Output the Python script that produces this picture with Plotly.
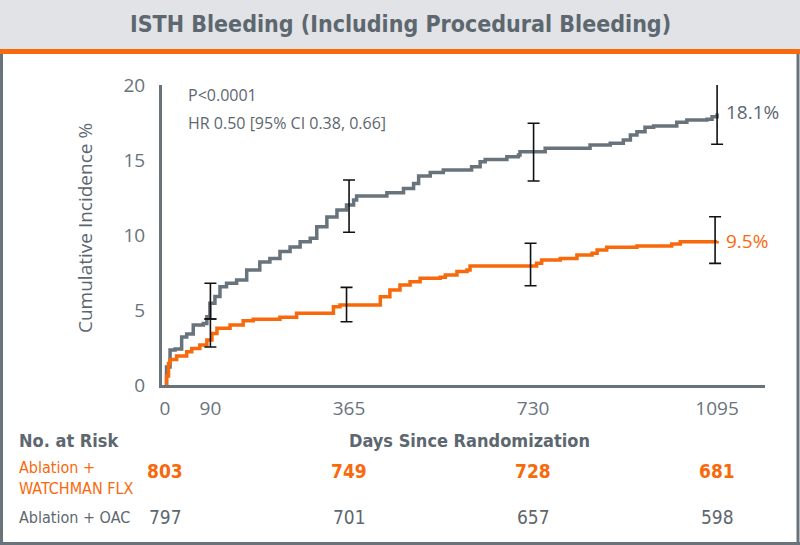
import plotly.graph_objects as go

# ---------------- data ----------------
oac_days = [0, 3, 10, 20, 33, 43, 56, 76, 83, 89, 99, 109, 122, 142, 162, 188, 208, 228, 248, 268, 288, 301, 321, 341,
            360, 374, 380, 440, 473, 493, 503, 526, 552, 608, 625, 635, 678, 701, 704, 754, 843, 883, 909, 923, 936,
            952, 969, 1015, 1035, 1075, 1085, 1095]
oac_vals = [0, 1.2, 2.33, 2.4, 3.2, 3.4, 4.0, 4.1, 4.55, 5.45, 5.9, 6.55, 6.78, 7.0, 7.67, 8.2, 8.44, 8.9, 9.2, 9.55, 9.78,
            10.55, 11.2, 11.67, 12.0, 12.33, 12.6, 12.82, 13.1, 13.44, 13.93, 14.16, 14.33, 14.55, 14.89, 15.04, 15.22,
            15.33, 15.55, 15.78, 16.0, 16.11, 16.33, 16.67, 16.89, 17.18, 17.27, 17.51, 17.67, 17.71, 17.89, 18.1]

lao_days = [0, 3, 7, 10, 23, 43, 53, 69, 83, 93, 103, 129, 155, 175, 228, 261, 334, 347, 427, 446, 466, 486, 506, 546,
            556, 579, 599, 605, 737, 747, 784, 817, 847, 857, 876, 936, 1005, 1022, 1095]
lao_vals = [0, 0.6, 1.44, 1.7, 1.93, 2.22, 2.44, 2.67, 3.0, 3.44, 3.78, 4.0, 4.29, 4.38, 4.51, 4.78, 5.22, 5.33, 5.89,
            6.33, 6.67, 6.89, 7.11, 7.18, 7.33, 7.56, 7.67, 7.93, 8.11, 8.33, 8.44, 8.67, 8.78, 9.0, 9.18, 9.27, 9.4,
            9.55, 9.6]

oac_ci_days = [90, 365, 731, 1095]
oac_ci_mid = [5.45, 12.0, 15.55, 18.1]
oac_ci_low = [4.4, 10.18, 13.6, 16.05]
oac_ci_high = [6.78, 13.67, 17.45, 20.2]

lao_ci_days = [90, 360, 725, 1091]
lao_ci_mid = [3.44, 5.33, 7.93, 9.6]
lao_ci_low = [2.53, 4.22, 6.62, 8.11]
lao_ci_high = [4.4, 6.51, 9.45, 11.22]

tick_days = [0, 90, 365, 730, 1095]
risk_days = [0, 365, 730, 1095]
risk_lao = [803, 749, 728, 681]
risk_oac = [797, 701, 657, 598]

GRAY = "#69737b"
TXT = "#5d676f"
ORANGE = "#f8690c"
SANS = "Open Sans, DejaVu Sans, sans-serif"
NARROW = "DejaVu Sans Condensed, Open Sans, sans-serif"

W, H = 800, 545
L, R, T, B = 162, 35, 85, 160


def px(x):
    return (x - L) / (W - L - R)


def py(y):
    return (H - B - y) / (H - T - B)


fig = go.Figure()

fig.add_trace(go.Scatter(x=oac_days, y=oac_vals, mode="lines", line=dict(color=GRAY, width=3.5, shape="hv"),
                         showlegend=False, hoverinfo="skip"))
fig.add_trace(go.Scatter(x=lao_days, y=lao_vals, mode="lines", line=dict(color=ORANGE, width=3.5, shape="hv"),
                         showlegend=False, hoverinfo="skip"))

for d, m, lo, hi in [(oac_ci_days, oac_ci_mid, oac_ci_low, oac_ci_high),
                     (lao_ci_days, lao_ci_mid, lao_ci_low, lao_ci_high)]:
    fig.add_trace(go.Scatter(
        x=d, y=m, mode="markers", marker=dict(size=1, color="rgba(0,0,0,0)"),
        error_y=dict(type="data", symmetric=False,
                     array=[h - v for h, v in zip(hi, m)],
                     arrayminus=[v - l for v, l in zip(m, lo)],
                     color="#111111", thickness=1.6, width=6),
        showlegend=False, hoverinfo="skip"))

shapes = [
    dict(type="rect", xref="paper", yref="paper", x0=px(0), x1=px(W), y0=py(0), y1=py(49),
         fillcolor="#e1e3e6", line=dict(width=0), layer="below"),
    dict(type="rect", xref="paper", yref="paper", x0=px(0), x1=px(W), y0=py(49), y1=py(54),
         fillcolor=ORANGE, line=dict(width=0)),
    dict(type="line", xref="paper", yref="paper", x0=px(1.5), x1=px(1.5), y0=py(54), y1=py(543.5),
         line=dict(color=GRAY, width=3)),
    dict(type="line", xref="paper", yref="paper", x0=px(798), x1=px(798), y0=py(54), y1=py(543.5),
         line=dict(color=GRAY, width=3)),
    dict(type="line", xref="paper", yref="paper", x0=px(0), x1=px(W), y0=py(543.5), y1=py(543.5),
         line=dict(color=GRAY, width=3)),
]

ann = []


def add(text, x, y, size, color, family=SANS, xanchor="left", xref="paper", weight=None, **kw):
    f = dict(size=size, color=color, family=family)
    if weight:
        f["weight"] = weight
    ann.append(dict(text=text, x=x, y=py(y), xref=xref, yref="paper", xanchor=xanchor, yanchor="middle",
                    showarrow=False, font=f, **kw))


add("ISTH Bleeding (Including Procedural Bleeding)", px(400), 24, 23, TXT, family=NARROW, xanchor="center",
    weight="bold")
add("P<0.0001", px(186), 95, 16, TXT)
add("HR 0.50 [95% CI 0.38, 0.66]", px(186), 123, 16, TXT)
add("18.1%", px(724), 112, 19, TXT)
add("9.5%", px(724), 241, 19, ORANGE)
add("Cumulative Incidence %", px(85), 228, 19, TXT, xanchor="center", textangle=-90)
add("No. at Risk", px(17), 440, 18, TXT, family=NARROW, weight="bold")
add("Days Since Randomization", px(469), 440, 18, TXT, family=NARROW, xanchor="center", weight="bold")
add("Ablation +<br>WATCHMAN FLX", px(17), 478, 16, ORANGE, family=NARROW, align="left")
add("Ablation + OAC", px(17), 517, 16, TXT, family=NARROW)
for d, a, o in zip(risk_days, risk_lao, risk_oac):
    add(str(a), d, 471, 19, ORANGE, family=NARROW, xanchor="center", xref="x", weight="bold")
    add(str(o), d, 517, 19, TXT, family=NARROW, xanchor="center", xref="x")

fig.update_layout(
    width=W, height=H, margin=dict(l=L, r=R, t=T, b=B),
    paper_bgcolor="white", plot_bgcolor="white",
    shapes=shapes, annotations=ann,
    xaxis=dict(range=[-6, 1190], tickvals=tick_days, ticktext=[str(t) for t in tick_days],
               showgrid=False, zeroline=False, showline=True, linecolor=GRAY, linewidth=3,
               ticks="", tickfont=dict(size=19, color=GRAY, family=SANS), ticklabelstandoff=4),
    yaxis=dict(range=[0, 20], tickvals=[0, 5, 10, 15, 20], showgrid=False, zeroline=False,
               showline=True, linecolor=GRAY, linewidth=3, ticks="",
               tickfont=dict(size=19, color=GRAY, family=SANS), ticklabelstandoff=10),
)

fig.write_html("out.html", config={"displayModeBar": False},
               post_script="document.body.style.margin='0';")
